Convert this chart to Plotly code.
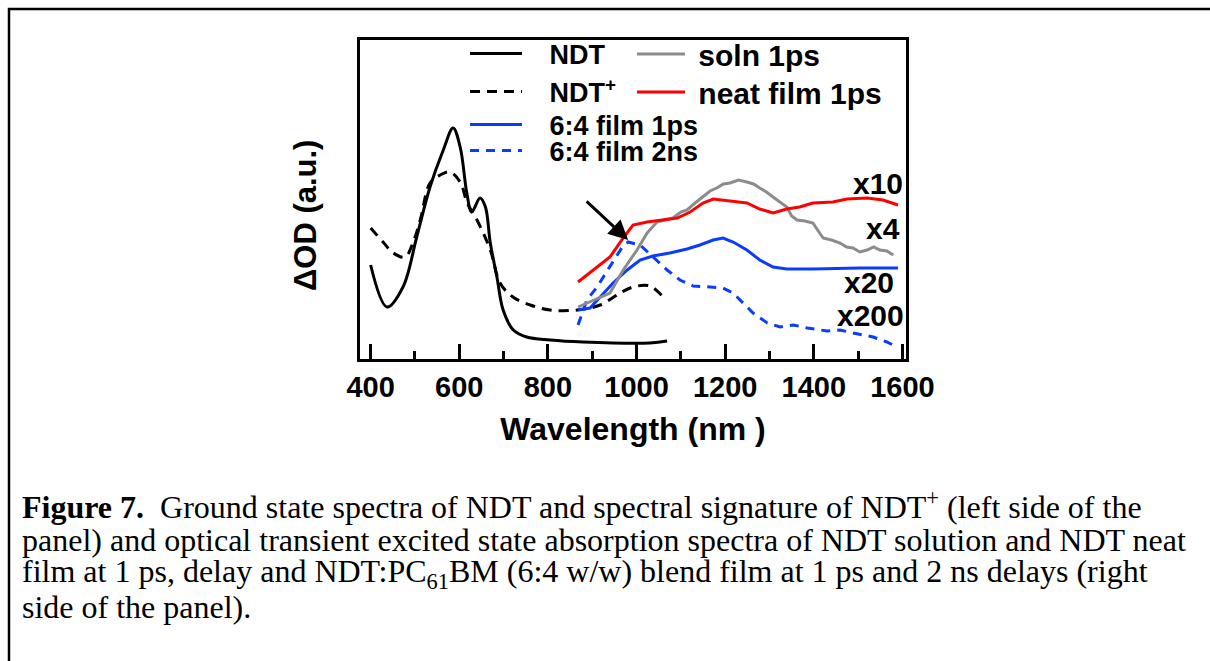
import plotly.graph_objects as go

# ---------------- data (wavelength nm, dOD a.u.) ----------------
ndt_x = [400, 437, 473, 504, 534, 564, 586, 602, 617, 628, 647, 659, 670, 685, 699, 722, 752, 805, 879, 1030, 1069]
ndt_y = [93, 51, 71, 121, 171, 208, 230, 211, 165, 146, 160, 151, 115, 81, 48, 28, 21, 18, 16, 15, 17]

ndtp_x = [400, 428, 451, 478, 496, 512, 534, 557, 579, 602, 618, 640, 670, 692, 721, 760, 805, 866, 918, 963, 992, 1030, 1060]
ndtp_y = [130, 116, 105, 101, 116, 138, 175, 183, 186, 176, 155, 138, 108, 75, 61, 53, 48, 48, 53, 65, 71, 72, 61]

soln_x = [868, 900, 940, 970, 1001, 1024, 1046, 1064, 1082, 1100, 1114, 1132, 1150, 1166, 1181, 1196, 1211, 1230, 1249, 1264, 1278, 1293, 1308, 1324, 1339, 1350, 1362, 1380, 1398, 1410, 1421, 1440, 1459, 1474, 1488, 1504, 1520, 1535, 1549, 1565, 1579]
soln_y = [51, 57, 65, 88, 108, 125, 136, 138, 140, 146, 148, 155, 161, 167, 170, 174, 175, 178, 176, 174, 170, 166, 161, 156, 151, 142, 138, 137, 135, 127, 120, 118, 115, 111, 110, 106, 108, 111, 108, 107, 103]

neat_x = [868, 902, 940, 970, 992, 1024, 1053, 1092, 1121, 1150, 1173, 1211, 1249, 1278, 1308, 1339, 1368, 1398, 1443, 1475, 1520, 1556, 1590]
neat_y = [76, 88, 101, 120, 133, 136, 138, 140, 146, 155, 159, 157, 155, 149, 145, 149, 151, 155, 156, 159, 160, 158, 153]

b1ps_x = [868, 895, 918, 947, 979, 1008, 1037, 1075, 1114, 1143, 1173, 1195, 1218, 1249, 1278, 1308, 1339, 1398, 1504, 1590]
b1ps_y = [48, 50, 61, 75, 88, 98, 102, 105, 109, 113, 118, 120, 116, 108, 98, 91, 89, 89, 90, 90]

b2ns_x = [868, 888, 911, 934, 952, 968, 981, 1008, 1037, 1069, 1098, 1128, 1166, 1195, 1218, 1241, 1263, 1295, 1324, 1354, 1385, 1430, 1459, 1489, 1534, 1565, 1588]
b2ns_y = [33, 58, 71, 88, 100, 111, 116, 113, 101, 88, 78, 72, 71, 70, 65, 55, 45, 35, 31, 33, 30, 27, 28, 25, 21, 16, 11]

x_ticks = [400, 600, 800, 1000, 1200, 1400, 1600]

series_names = ["NDT", "NDT<sup>+</sup>", "6:4 film 1ps", "6:4 film 2ns", "soln 1ps", "neat film 1ps"]

scale_labels = ["x10", "x4", "x20", "x200"]
scale_x = [1545, 1556, 1524, 1527]
scale_y = [175, 130, 76, 43]

caption_lines = [
    "<b>Figure 7.</b>  Ground state spectra of NDT and spectral signature of NDT<sup>+</sup> (left side of the",
    "panel) and optical transient excited state absorption spectra of NDT solution and NDT neat",
    "film at 1 ps, delay and NDT:PC<sub>61</sub>BM (6:4 w/w) blend film at 1 ps and 2 ns delays (right",
    "side of the panel).",
]

# ---------------- figure ----------------
W, H = 1210, 661
L, R, T, B = 360, 906, 40, 359
pw, ph = R - L, B - T

def px(xp):
    return (xp - L) / pw

def py(yp):
    return 1 - (yp - T) / ph

SANS = "Liberation Sans"
NB3 = "\u00a0\u00a0\u00a0"
NB1 = "\u00a0"
fig = go.Figure()

traces = [
    (ndt_x, ndt_y, NB3 + series_names[0], "black", "solid", 3, "spline", "legend"),
    (ndtp_x, ndtp_y, NB3 + series_names[1], "black", "10px,7px", 3, "spline", "legend2"),
    (b1ps_x, b1ps_y, NB3 + series_names[2], "#0a3cff", "solid", 3, "linear", "legend3"),
    (b2ns_x, b2ns_y, NB3 + series_names[3], "#0a3cff", "9px,7px", 3, "linear", "legend4"),
    (soln_x, soln_y, NB1 + series_names[4], "#8c8c8c", "solid", 3, "linear", "legend5"),
    (neat_x, neat_y, NB1 + series_names[5], "#ff0000", "solid", 3, "linear", "legend6"),
]
for xs, ys, name, col, dash, w, shape, lg in traces:
    fig.add_trace(go.Scatter(x=xs, y=ys, mode="lines", name=name,
                             line=dict(color=col, dash=dash, width=w, shape=shape),
                             legend=lg))

leg_left = dict(family=SANS, size=27, color="black", weight="bold")
leg_right = dict(family=SANS, size=30, color="black", weight="bold")
leg_pos = {
    "legend": (465, 54, leg_left, 52),
    "legend2": (465, 92, leg_left, 52),
    "legend3": (465, 125, leg_left, 52),
    "legend4": (465, 151, leg_left, 52),
    "legend5": (632, 54, leg_right, 48),
    "legend6": (632, 92, leg_right, 48),
}
layout_legends = {}
for k, (lx, ly, lf, iw) in leg_pos.items():
    layout_legends[k] = dict(x=px(lx), y=py(ly), xanchor="left", yanchor="middle",
                             bgcolor="rgba(0,0,0,0)", borderwidth=0, font=lf,
                             itemwidth=iw)

annotations = []
for t, xv, yv in zip(scale_labels, scale_x, scale_y):
    annotations.append(dict(x=xv, y=yv, xref="x", yref="y", text=t, showarrow=False,
                            font=dict(family=SANS, size=30, color="black", weight="bold")))

annotations.append(dict(x=981, y=118, xref="x", yref="y", ax=884, ay=158, axref="x", ayref="y",
                        text="", showarrow=True, arrowhead=2, arrowsize=1.3, arrowwidth=3,
                        arrowcolor="black"))

annotations.append(dict(x=px(305), y=py(216), xref="paper", yref="paper", text="ΔOD (a.u.)",
                        textangle=-90, showarrow=False, xanchor="center", yanchor="middle",
                        font=dict(family=SANS, size=31, color="black", weight="bold")))

cap_y = [505, 540, 573, 607]
for line, cy in zip(caption_lines, cap_y):
    annotations.append(dict(x=px(20), y=py(cy), xref="paper", yref="paper", text=line,
                            xanchor="left", yanchor="middle", showarrow=False, align="left",
                            font=dict(family="Liberation Serif", size=32, color="black")))

fig.update_layout(
    width=W, height=H,
    margin=dict(l=L, r=W - R, t=T, b=H - B, pad=0),
    paper_bgcolor="white", plot_bgcolor="white",
    showlegend=True,
    annotations=annotations,
    shapes=[dict(type="rect", xref="paper", yref="paper",
                 x0=px(9), x1=px(1220), y0=py(9), y1=py(680),
                 line=dict(color="black", width=2.5), fillcolor="rgba(0,0,0,0)")],
    **layout_legends,
)

fig.update_xaxes(range=[376, 1608], tickvals=x_ticks, ticks="inside", ticklen=15, tickwidth=3,
                 tickcolor="black", showline=True, linewidth=3, linecolor="black", mirror=True,
                 showgrid=False, zeroline=False,
                 minor=dict(dtick=100, tick0=400, ticks="inside", ticklen=8, tickwidth=3, tickcolor="black"),
                 tickfont=dict(family=SANS, size=29, color="black", weight="bold"),
                 ticklabelstandoff=0,
                 title=dict(text="Wavelength (nm )", standoff=16,
                            font=dict(family=SANS, size=32, color="black", weight="bold")))
fig.update_yaxes(range=[-1, 318], showticklabels=False, ticks="", showline=True, linewidth=3,
                 linecolor="black", mirror=True, showgrid=False, zeroline=False)

fig.write_html("out.html")
